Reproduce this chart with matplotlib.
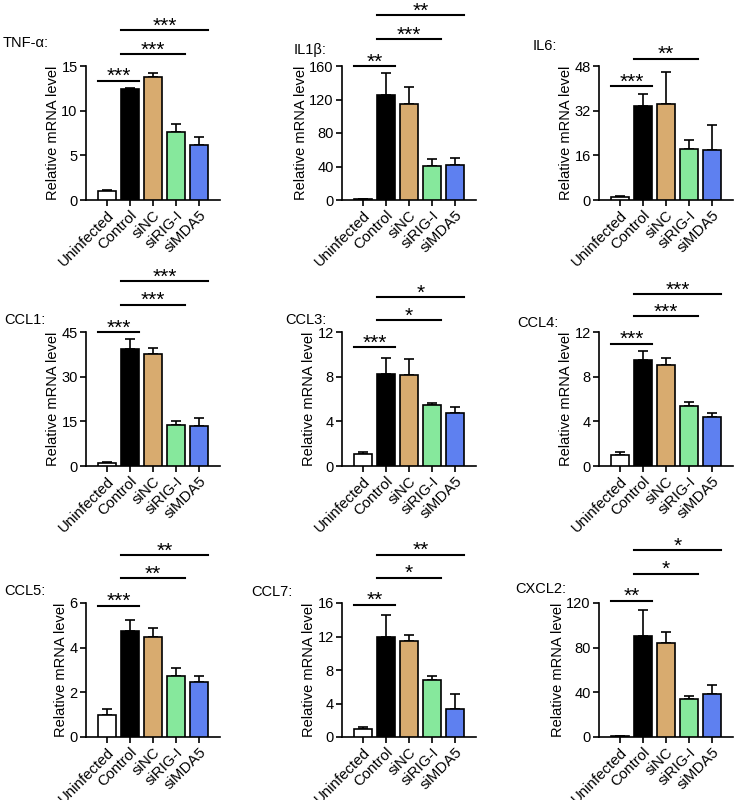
import matplotlib
matplotlib.use('Agg')
import matplotlib.pyplot as plt
import numpy as np

plt.rcParams['font.family'] = ['Liberation Sans', 'DejaVu Sans']

groups = ['Uninfected', 'Control', 'siNC', 'siRIG-I', 'siMDA5']
colors = ['#ffffff', '#000000', '#d8ab6f', '#86e89c', '#5e80f0']

genes = ['TNF-α:', 'IL1β:', 'IL6:', 'CCL1:', 'CCL3:', 'CCL4:', 'CCL5:', 'CCL7:', 'CXCL2:']
yticks = [
    [0, 5, 10, 15],
    [0, 40, 80, 120, 160],
    [0, 16, 32, 48],
    [0, 15, 30, 45],
    [0, 4, 8, 12],
    [0, 4, 8, 12],
    [0, 2, 4, 6],
    [0, 4, 8, 12, 16],
    [0, 40, 80, 120],
]

tnf = [1.0, 12.4, 13.8, 7.65, 6.2]
tnf_err = [0.08, 0.1, 0.45, 0.9, 0.85]
il1b = [1.0, 125.7, 115, 40.3, 42.3]
il1b_err = [0.5, 26, 20, 8.4, 8.4]
il6 = [0.95, 33.6, 34.3, 18.2, 17.9]
il6_err = [0.6, 4.5, 11.6, 3.2, 9.1]
ccl1 = [1.0, 39.4, 37.5, 13.8, 13.5]
ccl1_err = [0.35, 3.4, 2.0, 1.2, 2.6]
ccl3 = [1.04, 8.28, 8.13, 5.45, 4.79]
ccl3_err = [0.18, 1.4, 1.49, 0.15, 0.5]
ccl4 = [0.98, 9.53, 9.08, 5.36, 4.41]
ccl4_err = [0.3, 0.74, 0.62, 0.39, 0.3]
ccl5 = [1.0, 4.76, 4.5, 2.75, 2.46]
ccl5_err = [0.24, 0.48, 0.39, 0.34, 0.27]
ccl7 = [0.95, 11.9, 11.5, 6.83, 3.37]
ccl7_err = [0.24, 2.66, 0.67, 0.4, 1.79]
cxcl2 = [1.0, 90.8, 84.3, 34.2, 38.7]
cxcl2_err = [0.3, 23, 9.5, 2.4, 7.5]

means = [tnf, il1b, il6, ccl1, ccl3, ccl4, ccl5, ccl7, cxcl2]
errs = [tnf_err, il1b_err, il6_err, ccl1_err, ccl3_err, ccl4_err, ccl5_err, ccl7_err, cxcl2_err]

# significance: (group i, group j, stars)
sig = [
    [(0, 1, '***'), (1, 3, '***'), (1, 4, '***')],
    [(0, 1, '**'), (1, 3, '***'), (1, 4, '**')],
    [(0, 1, '***'), (1, 3, '**')],
    [(0, 1, '***'), (1, 3, '***'), (1, 4, '***')],
    [(0, 1, '***'), (1, 3, '*'), (1, 4, '*')],
    [(0, 1, '***'), (1, 3, '***'), (1, 4, '***')],
    [(0, 1, '***'), (1, 3, '**'), (1, 4, '**')],
    [(0, 1, '**'), (1, 3, '*'), (1, 4, '**')],
    [(0, 1, '**'), (1, 3, '*'), (1, 4, '*')],
]
# bracket heights as fraction of y-axis top
sig_levels = [
    [0.89, 1.09, 1.265],
    [1.0, 1.20, 1.38],
    [0.85, 1.055],
    [1.0, 1.205, 1.38],
    [0.888, 1.087, 1.26],
    [0.913, 1.117, 1.285],
    [0.98, 1.184, 1.357],
    [0.988, 1.19, 1.36],
    [1.017, 1.22, 1.395],
]

W, H = 740, 800
fig = plt.figure(figsize=(W / 100, H / 100), dpi=100)

col_x = [86, 342, 599]
row_bottom = [200, 466, 737]
title_pos = [(3, 43), (294, 50), (533, 46), (4, 320), (285, 320), (517, 323),
             (4, 591), (251, 592), (515, 589)]
bw = 0.78
x = np.arange(len(groups))

for k in range(9):
    r, c = divmod(k, 3)
    ax = fig.add_axes([col_x[c] / W, 1 - row_bottom[r] / H, 134 / W, 134 / H])
    ax.bar(x, means[k], width=bw, color=colors, edgecolor='black', linewidth=1.2, zorder=3)
    ax.errorbar(x, means[k], yerr=[np.zeros(5), errs[k]], fmt='none', ecolor='black',
                elinewidth=1.2, capsize=3.5, capthick=1.2, zorder=2)
    ax.set_xlim(-0.9, 4.9)
    ax.set_ylim(0, yticks[k][-1])
    ax.set_yticks(yticks[k])
    ax.set_xticks(x)
    ax.set_xticklabels(groups, rotation=45, ha='right', rotation_mode='anchor')
    ax.tick_params(axis='y', labelsize=10.5, width=1.2, length=4, pad=2)
    ax.tick_params(axis='x', labelsize=10.8, width=1.2, length=4, pad=2)
    ax.set_ylabel('Relative mRNA level', fontsize=10.5, labelpad=1)
    for s in ['top', 'right']:
        ax.spines[s].set_visible(False)
    for s in ['left', 'bottom']:
        ax.spines[s].set_linewidth(1.2)

    top = yticks[k][-1]
    for (i, j, stars), lvl in zip(sig[k], sig_levels[k]):
        yy = lvl * top
        ax.plot([i - bw / 2, j + bw / 2], [yy, yy], color='black', lw=1.5, clip_on=False)
        ax.annotate(stars, xy=((i + j) / 2, yy), xytext=(0, -4), textcoords='offset points',
                    ha='center', va='bottom', fontsize=15, annotation_clip=False)

    tx, ty = title_pos[k]
    fig.text(tx / W, 1 - ty / H, genes[k], fontsize=10.5, ha='left', va='center')

fig.savefig('out.png', dpi=100)
